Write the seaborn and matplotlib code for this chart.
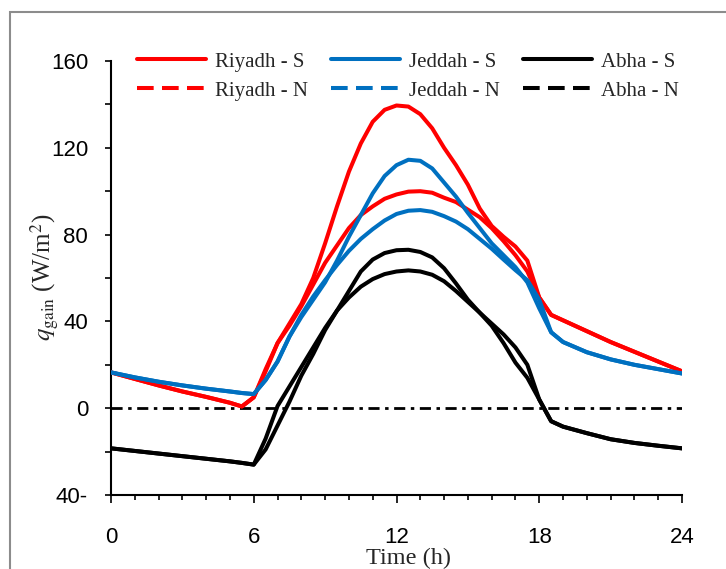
import numpy as np
import pandas as pd
import matplotlib
matplotlib.use("Agg")
import matplotlib.pyplot as plt
import seaborn as sns
from matplotlib.lines import Line2D
from matplotlib.patches import Rectangle
from matplotlib.ticker import MultipleLocator

# ---------------- data ----------------
hours = [0, 1, 2, 3, 4, 5, 5.5, 6, 6.5, 7, 7.5, 8, 8.5, 9, 9.5, 10, 10.5, 11, 11.5,
         12, 12.5, 13, 13.5, 14, 14.5, 15, 15.5, 16, 16.5, 17, 17.5, 18, 18.5,
         19, 20, 21, 22, 23, 24]

riyadh_s = [16.5, 13.5, 10.5, 7.7, 5.2, 2.5, 0.8, 5, 18, 30, 39, 48, 60, 76, 93, 109, 122, 132, 137.5,
            139.5, 139, 135.5, 129, 120, 112, 103, 92, 84, 79, 74.5, 68, 51, 43,
            40.5, 35.5, 30.5, 26, 21.5, 17]
riyadh_n = [16.5, 13.5, 10.5, 7.7, 5.2, 2.5, 0.8, 5, 17, 30, 38, 47, 57, 67, 75, 83, 89, 93, 96.5,
            98.5, 99.8, 100, 99.3, 97, 95, 91.5, 88, 83, 77, 70.5, 63, 51, 43,
            40.5, 35.5, 30.5, 26, 21.5, 17]
jeddah_s = [16.5, 14.2, 12.2, 10.5, 9, 7.7, 7, 6.5, 13, 21.5, 33, 42, 50, 58, 68, 79, 89, 99, 107,
            112, 114.5, 114, 110.5, 104, 97.5, 90, 83, 76, 70.5, 65, 58, 46, 35,
            30.5, 25.8, 22.5, 20, 18, 16]
jeddah_n = [16.5, 14.2, 12.2, 10.5, 9, 7.7, 7, 6.5, 13, 21.5, 33, 43, 51.5, 59, 66, 72.5, 78, 82.5, 86.5,
            89.5, 91, 91.3, 90.5, 88.5, 86, 82.5, 78, 73.5, 68.5, 63.6, 59, 50, 35,
            30.5, 25.8, 22.5, 20, 18, 16]
abha_s = [-18.5, -19.7, -20.9, -22.1, -23.3, -24.5, -25.2, -26, -19, -8, 3, 15, 25, 36, 45, 54, 63, 68.5, 71.5,
          72.8, 73, 72, 69.5, 64.5, 57.5, 50, 44, 38, 30, 21, 14, 4, -6,
          -8.5, -11.5, -14.3, -16, -17.3, -18.5]
abha_n = [-18.5, -19.7, -20.9, -22.1, -23.3, -24.5, -25.2, -26, -14, 1, 10, 19, 28, 37, 45, 51, 56, 59.5, 61.8,
          63, 63.5, 63, 61.5, 58.5, 54, 49, 44, 39, 34, 28, 20, 4, -6,
          -8.5, -11.5, -14.3, -16, -17.3, -18.5]

series_names = ["Riyadh - S", "Riyadh - N", "Jeddah - S", "Jeddah - N", "Abha - S", "Abha - N"]
series_values = [riyadh_s, riyadh_n, jeddah_s, jeddah_n, abha_s, abha_n]
series_colors = ["#FF0000", "#FF0000", "#0070C0", "#0070C0", "#000000", "#000000"]
series_dashed = [False, True, False, True, False, True]

y_ticks = [-40, 0, 40, 80, 120, 160]
y_ticklabels = ["40-", "0", "40", "80", "120", "160"]
x_ticks = [0, 6, 12, 18, 24]
x_ticklabels = ["0", "6", "12", "18", "24"]

df = pd.concat(
    [pd.DataFrame({"time": hours, "q": vals, "series": name})
     for name, vals in zip(series_names, series_values)],
    ignore_index=True,
)

# ---------------- style ----------------
sns.set_theme(style="ticks")
plt.rcParams["font.family"] = ["Liberation Sans", "DejaVu Sans"]
plt.rcParams["mathtext.fontset"] = "stix"
plt.rcParams["lines.scale_dashes"] = False

W, H = 726, 569
fig = plt.figure(figsize=(W / 100, H / 100), dpi=100)
fig.patch.set_facecolor("white")

x0, x1 = 111, 682
y0, y1 = 61, 495
ax = fig.add_axes([x0 / W, 1 - y1 / H, (x1 - x0) / W, (y1 - y0) / H])
ax.set_facecolor("white")

# zero reference line (dash-dot)
ax.axhline(0, color="black", lw=2.0, linestyle=(0, (8, 4, 2.5, 4)), zorder=1)

for name, color in zip(series_names, series_colors):
    sub = df[df["series"] == name]
    sns.lineplot(data=sub, x="time", y="q", color=color, lw=2.9, ax=ax,
                 legend=False, zorder=3, solid_capstyle="round", solid_joinstyle="round")

ax.set_xlim(0, 24)
ax.set_ylim(-40, 160)
ax.set_xticks(x_ticks)
ax.set_xticklabels(x_ticklabels)
ax.xaxis.set_minor_locator(MultipleLocator(1))
ax.set_yticks(y_ticks)
ax.set_yticklabels(y_ticklabels)
ax.yaxis.set_minor_locator(MultipleLocator(20))
ax.set_xlabel("")
ax.set_ylabel("")

for s in ["top", "right"]:
    ax.spines[s].set_visible(False)
for s in ["left", "bottom"]:
    ax.spines[s].set_color("black")
    ax.spines[s].set_linewidth(1.5)

ax.tick_params(axis="y", which="major", direction="out", length=4.5, width=1.2,
               color="black", pad=12, labelsize=16, labelcolor="black")
ax.tick_params(axis="y", which="minor", direction="out", length=4.5, width=1.2, color="black")
ax.tick_params(axis="x", which="major", direction="out", length=6, width=1.2,
               color="black", pad=17, labelsize=16, labelcolor="black")
ax.tick_params(axis="x", which="minor", direction="out", length=3.5, width=1.2, color="black")

# axis titles
fig.text(409 / W, 1 - 558 / H, "Time (h)", ha="center", va="center",
         fontsize=17.5, family="Liberation Serif")
fig.text(44 / W, 1 - 277 / H, r"$q_{\mathrm{gain}}$ (W/m$^2$)", ha="center", va="center",
         rotation=90, fontsize=18, family="Liberation Serif")

# legend
handles = []
for name, color, dashed in zip(series_names, series_colors, series_dashed):
    ls = (0, (12, 6)) if dashed else "-"
    handles.append(Line2D([0], [0], color=color, lw=2.9, linestyle=ls))
leg = ax.legend(handles, series_names, ncol=3, loc="upper left",
                bbox_to_anchor=(137 / W, 1 - 52 / H), bbox_transform=fig.transFigure,
                frameon=False, borderpad=0, borderaxespad=0, handlelength=3.3,
                handletextpad=0.45, columnspacing=1.1, labelspacing=0.45,
                prop={"family": "Liberation Serif", "size": 15})

# outer grey frame
fig.add_artist(Rectangle((10 / W, -0.05), 1.2, 1 - 12 / H + 0.05, transform=fig.transFigure,
                         fill=False, edgecolor="#8c8c8c", lw=1.5, clip_on=False))

fig.savefig("out.png", dpi=100, facecolor="white")
